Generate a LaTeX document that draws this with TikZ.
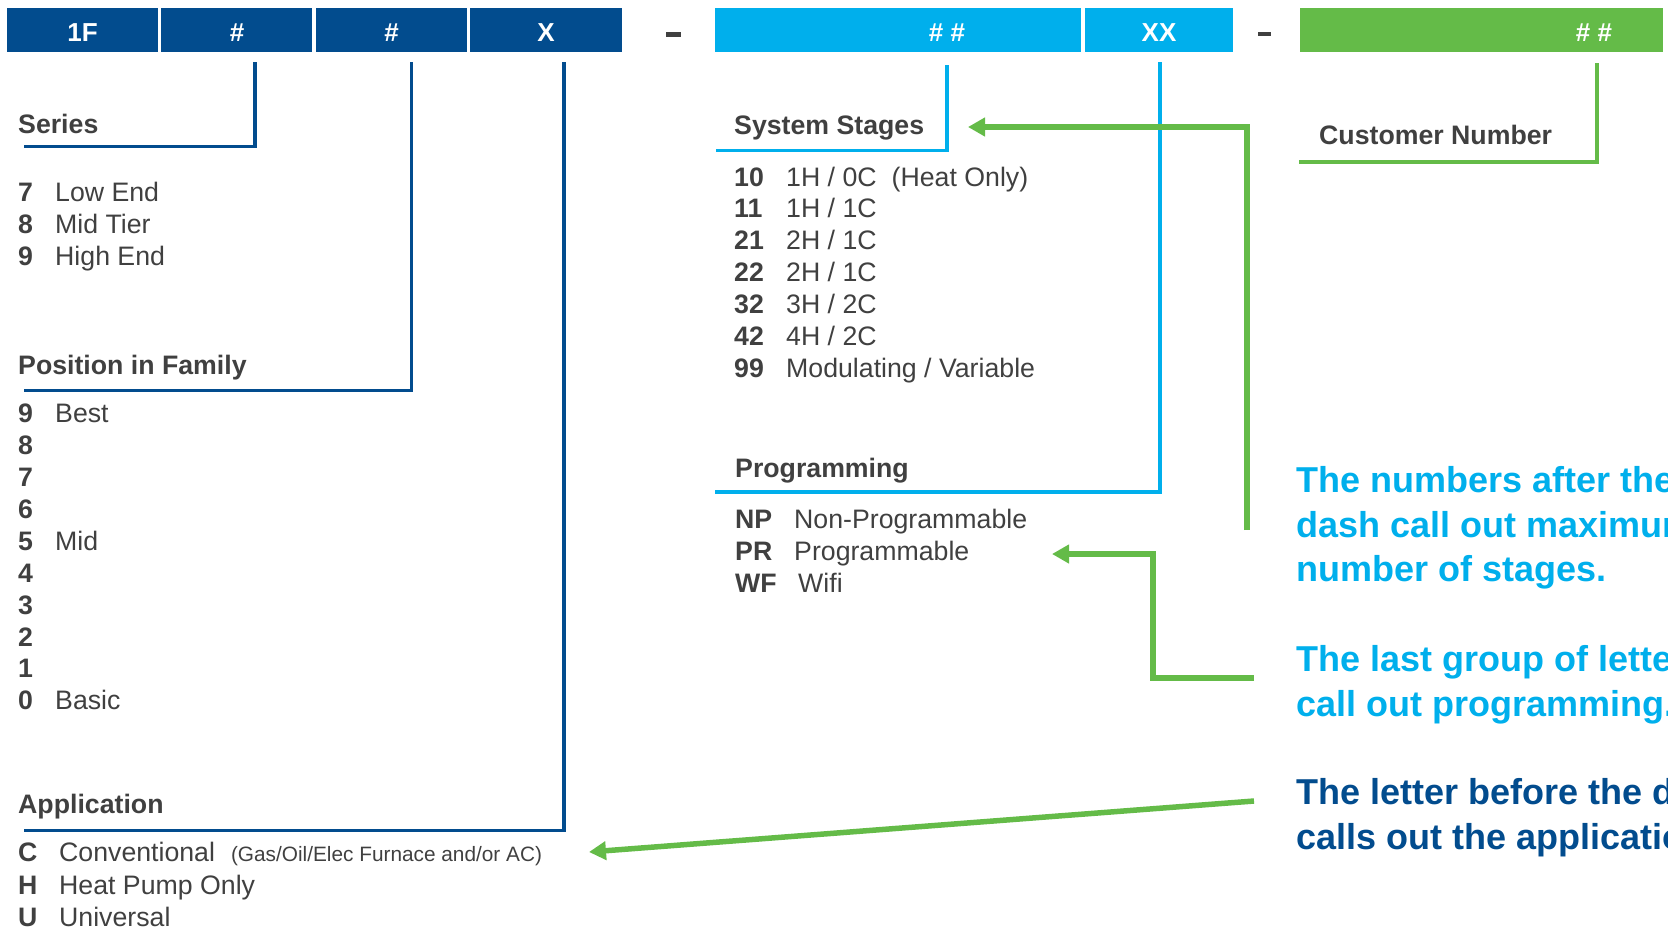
\documentclass[tikz,border=0pt]{standalone}
\usepackage{xcolor}
\usepackage{tikz}
\usepackage{fontspec}
\setmainfont{Liberation Sans}
\usetikzlibrary{arrows.meta}
\definecolor{codenavy}{RGB}{2,76,142}
\definecolor{codecyan}{RGB}{0,175,236}
\definecolor{codegreen}{RGB}{100,187,72}
\definecolor{textgray}{RGB}{64,64,64}
\newcommand{\key}[2][37pt]{\makebox[#1][l]{\bfseries #2}}

\begin{document}
\begin{tikzpicture}[x=1pt, y=-1pt,
	codebox/.style={fill=#1, anchor=north west, inner sep=0pt, minimum height=44pt},
	boxlabel/.style={anchor=base, inner sep=0pt, text=white, font=\fontsize{26}{30}\selectfont\bfseries},
	heading/.style={anchor=base west, inner sep=0pt, text=textgray, font=\fontsize{26.7}{30}\selectfont\bfseries},
	entry/.style={anchor=base west, inner sep=0pt, text=textgray, font=\fontsize{26.7}{30}\selectfont},
	callout/.style={anchor=base west, inner sep=0pt, align=left, text=#1, font=\fontsize{36}{44.5}\selectfont\bfseries},
	bracket/.style={draw=#1, line width=3.5pt},
	pointer/.style={draw=codegreen, line width=5.5pt, -{Triangle[length=17pt, width=18pt]}}]
			\clip (0,0) rectangle (1668,927);
			% Code boxes
			\node[codebox=codenavy, minimum width=151pt] (fam) at (7,8) {};
			\node[codebox=codenavy, minimum width=151pt] (ser) at (161,8) {};
			\node[codebox=codenavy, minimum width=151pt] (pos) at (316,8) {};
			\node[codebox=codenavy, minimum width=152pt] (app) at (470,8) {};
			\node[codebox=codecyan, minimum width=366pt] (stg) at (715,8) {};
			\node[codebox=codecyan, minimum width=148pt] (prg) at (1085,8) {};
			\node[codebox=codegreen, minimum width=363pt] (cust) at (1300,8) {};
			\node[boxlabel] (famlbl) at (82.5,41.3) {1F};
			\node[boxlabel] (serlbl) at (237,41.3) {\#};
			\node[boxlabel] (poslbl) at (391.5,41.3) {\#};
			\node[boxlabel] (applbl) at (546,41.3) {X};
			\node[boxlabel] (stglbl) at (947,41.3) {\# \#};
			\node[boxlabel] (prglbl) at (1159,41.3) {XX};
			\node[boxlabel] (custlbl) at (1594,41.3) {\# \#};
			% Dashes between groups
			\fill[textgray] (666,32) rectangle (681,36.5);
			\fill[textgray] (1258,31.5) rectangle (1271,36);
			% Series
			\node[heading] (series) at (18,133) {Series};
			\node[entry] (ser7) at (18,201.7) {\key{7}Low End};
			\node[entry] (ser8) at (18,233.3) {\key{8}Mid Tier};
			\node[entry] (ser9) at (18,265) {\key{9}High End};
			% Position in Family
			\node[heading] (family) at (18,374.3) {Position in Family};
			\node[entry] (pos9) at (18,422.7) {\key{9}Best};
			\node[entry] (pos8) at (18,454.6) {\key{8}};
			\node[entry] (pos7) at (18,486.5) {\key{7}};
			\node[entry] (pos6) at (18,518.4) {\key{6}};
			\node[entry] (pos5) at (18,550.3) {\key{5}Mid};
			\node[entry] (pos4) at (18,582.2) {\key{4}};
			\node[entry] (pos3) at (18,614.1) {\key{3}};
			\node[entry] (pos2) at (18,646) {\key{2}};
			\node[entry] (pos1) at (18,677.9) {\key{1}};
			\node[entry] (pos0) at (18,709.8) {\key{0}Basic};
			% Application
			\node[heading] (application) at (18,813.3) {Application};
			\node[entry] (appC) at (18,861.7) {\key[41pt]{C}Conventional\hspace{16pt}{\fontsize{20.8}{24}\selectfont(Gas/Oil/Elec Furnace and/or AC)}};
			\node[entry] (appH) at (18,894) {\key[41pt]{H}Heat Pump Only};
			\node[entry] (appU) at (18,926) {\key[41pt]{U}Universal};
			% System Stages
			\node[heading] (stages) at (734,134.3) {System Stages};
			\node[entry] (stg10) at (734,186) {\key[52pt]{10}1H / 0C\hspace{15pt}(Heat Only)};
			\node[entry] (stg11) at (734,217.9) {\key[52pt]{11}1H / 1C};
			\node[entry] (stg21) at (734,249.8) {\key[52pt]{21}2H / 1C};
			\node[entry] (stg22) at (734,281.7) {\key[52pt]{22}2H / 1C};
			\node[entry] (stg32) at (734,313.6) {\key[52pt]{32}3H / 2C};
			\node[entry] (stg42) at (734,345.5) {\key[52pt]{42}4H / 2C};
			\node[entry] (stg99) at (734,377.4) {\key[52pt]{99}Modulating / Variable};
			% Programming
			\node[heading] (programming) at (735,477.3) {Programming};
			\node[entry] (prgNP) at (735,528.3) {\key[59pt]{NP}Non-Programmable};
			\node[entry] (prgPR) at (735,560.7) {\key[59pt]{PR}Programmable};
			\node[entry] (prgWF) at (735,592.7) {\key[63pt]{WF}Wifi};
			% Customer Number
			\node[heading] (customer) at (1319,144.3) {Customer Number};
			% Call-outs (anchored on their last line)
			\node[callout=codecyan] (stagenote) at (1296,581.7) {The numbers after the\\dash call out maximum\\number of stages.};
			\node[callout=codecyan] (prognote) at (1296,716) {The last group of letters\\call out programming.};
			\node[callout=codenavy] (appnote) at (1296,849) {The letter before the dash\\calls out the application.};
			% Brackets
			\coordinate (serTop) at (255,62);
			\coordinate (serEnd) at (24,146.5);
			\coordinate (posTop) at (411.5,62);
			\coordinate (posEnd) at (24,390.5);
			\coordinate (appTop) at (564,62);
			\coordinate (appEnd) at (24,830.5);
			\coordinate (stgTop) at (947,65);
			\coordinate (stgEnd) at (716,150.5);
			\coordinate (prgTop) at (1160,62);
			\coordinate (prgEnd) at (715,492);
			\coordinate (custTop) at (1597,63);
			\coordinate (custEnd) at (1299,162);
			\draw[bracket=codenavy] (serTop) |- (serEnd);
			\draw[bracket=codenavy] (posTop) |- (posEnd);
			\draw[bracket=codenavy] (appTop) |- (appEnd);
			\draw[bracket=codecyan] (stgTop) |- (stgEnd);
			\draw[bracket=codecyan] (prgTop) |- (prgEnd);
			\draw[bracket=codegreen] (custTop) |- (custEnd);
			% Pointers
			\coordinate (stageFrom) at (1247,530);
			\coordinate (stageTo) at (968,127);
			\coordinate (progFrom) at (1254,678);
			\coordinate (progBend) at (1153,554);
			\coordinate (progTo) at (1052,554);
			\coordinate (appFrom) at (1254,801);
			\coordinate (appTo) at (589,852);
			\draw[pointer] (stageFrom) |- (stageTo);
			\draw[pointer] (progFrom) -| (progBend) -- (progTo);
			\draw[pointer] (appFrom) -- (appTo);
		\end{tikzpicture}
\end{document}
